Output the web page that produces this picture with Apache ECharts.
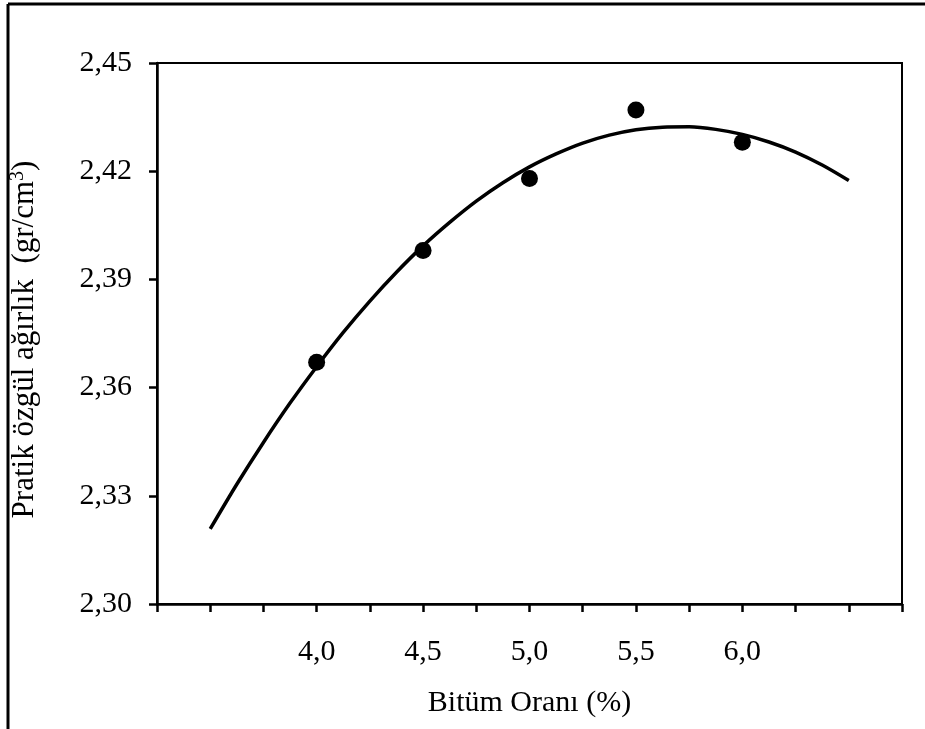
<!DOCTYPE html>
<html>
<head>
<meta charset="utf-8">
<script src="https://cdn.jsdelivr.net/npm/echarts@6/dist/echarts.min.js"></script>
<style>
  html, body { margin: 0; padding: 0; background: #fff; }
  #chart { width: 925px; height: 729px; }
</style>
</head>
<body>
<div id="chart"></div>
<script>
// Measured points: bitumen content (%) vs. bulk specific gravity
const bitumenPct = [4.0, 4.5, 5.0, 5.5, 6.0];
const specificGravity = [2.367, 2.398, 2.418, 2.437, 2.428];

// Trend curve
const curveX = [3.5, 3.625, 3.75, 3.875, 4.0, 4.125, 4.25, 4.375, 4.5, 4.625, 4.75, 4.875,
                5.0, 5.125, 5.25, 5.375, 5.5, 5.625, 5.75, 5.875, 6.0, 6.125, 6.25, 6.375, 6.5];
const curveY = [2.3208, 2.3332, 2.3448, 2.3557, 2.3658, 2.3753, 2.3840, 2.3920, 2.3993, 2.4058, 2.4117, 2.4168,
                2.4212, 2.4248, 2.4278, 2.4300, 2.4315, 2.4322, 2.4323, 2.4316, 2.4302, 2.4281, 2.4253, 2.4217, 2.4174];

// Axis ticks
const xLabelValues = [4.0, 4.5, 5.0, 5.5, 6.0];
const yTickValues = [2.30, 2.33, 2.36, 2.39, 2.42, 2.45];

const xTitle = 'Bitüm Oranı (%)';
const yTitle = 'Pratik özgül ağırlık  (gr/cm{sup|3})';

const FONT = '"Liberation Serif", "DejaVu Serif", serif';
const commaNum = (v, d) => v.toFixed(d).replace('.', ',');

const chart = echarts.init(document.getElementById('chart'), null, { renderer: 'canvas' });

chart.setOption({
  backgroundColor: '#ffffff',
  animation: false,
  textStyle: { fontFamily: FONT, color: '#000' },
  grid: {
    left: 157, right: 23, top: 63, bottom: 125,
    show: true, borderColor: '#000', borderWidth: 2, backgroundColor: 'transparent'
  },
  graphic: [
    { type: 'line', shape: { x1: 8, y1: 4, x2: 925, y2: 4 }, style: { stroke: '#000', lineWidth: 3 } },
    { type: 'line', shape: { x1: 8, y1: 4, x2: 8, y2: 729 }, style: { stroke: '#000', lineWidth: 3 } }
  ],
  xAxis: {
    type: 'value',
    min: 3.25, max: 6.75, interval: 0.25,
    axisLine: { show: true, lineStyle: { color: '#000', width: 2.5 } },
    axisTick: { show: true, inside: false, length: 8, lineStyle: { color: '#000', width: 2.5 } },
    axisLabel: {
      customValues: xLabelValues,
      formatter: v => commaNum(v, 1),
      fontFamily: FONT, fontSize: 30, color: '#000', margin: 33
    },
    splitLine: { show: false },
    name: xTitle,
    nameLocation: 'middle',
    nameGap: 84,
    nameTextStyle: { fontFamily: FONT, fontSize: 30, color: '#000' }
  },
  yAxis: {
    type: 'value',
    min: 2.30, max: 2.45,
    axisLine: { show: true, lineStyle: { color: '#000', width: 2.5 } },
    axisTick: { show: true, inside: false, length: 8, customValues: yTickValues, lineStyle: { color: '#000', width: 2.5 } },
    axisLabel: {
      customValues: yTickValues,
      formatter: v => commaNum(v, 2),
      fontFamily: FONT, fontSize: 30, color: '#000', margin: 25
    },
    splitLine: { show: false },
    name: yTitle,
    nameLocation: 'middle',
    nameGap: 115,
    nameTextStyle: {
      fontFamily: FONT, fontSize: 31, color: '#000',
      padding: [0, 12, 0, 0],
      rich: {
        sup: { fontFamily: FONT, fontSize: 20, color: '#000', verticalAlign: 'top', padding: [0, 0, 14, 0] }
      }
    }
  },
  series: [
    {
      type: 'line',
      data: curveX.map((x, i) => [x, curveY[i]]),
      smooth: 0.3,
      showSymbol: false,
      lineStyle: { color: '#000', width: 3.5 },
      z: 2
    },
    {
      type: 'scatter',
      data: bitumenPct.map((x, i) => [x, specificGravity[i]]),
      symbol: 'circle',
      symbolSize: 17,
      itemStyle: { color: '#000', opacity: 1 },
      z: 3
    }
  ]
});
</script>
</body>
</html>
